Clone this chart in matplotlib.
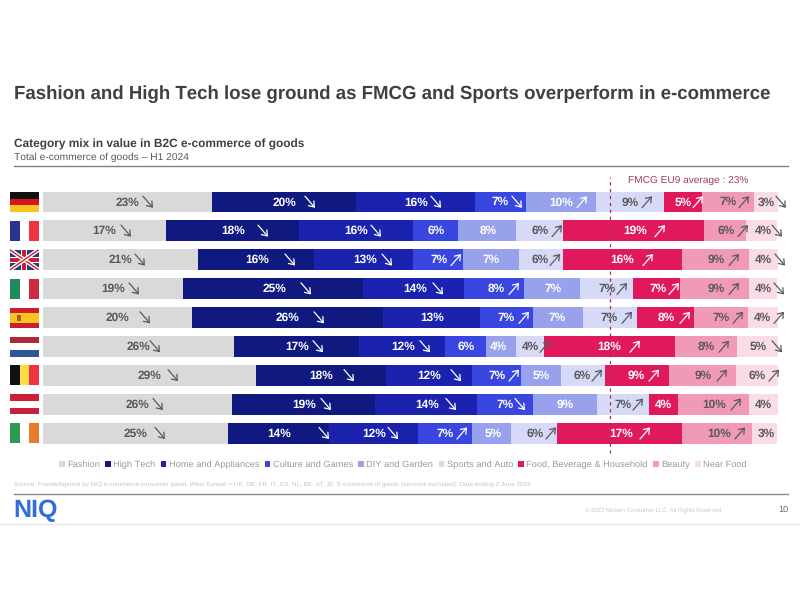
import matplotlib
matplotlib.use("Agg")
import matplotlib.pyplot as plt
from matplotlib.patches import Rectangle

plt.rcParams['font.family'] = ['Liberation Sans', 'DejaVu Sans']
plt.rcParams['text.hinting'] = 'no_hinting'
plt.rcParams['text.kerning_factor'] = 6

countries = ['DE', 'FR', 'UK', 'IT', 'ES', 'NL', 'BE', 'AT', 'IE']
categories = ['Fashion', 'High Tech', 'Home and Appliances', 'Culture and Games', 'DIY and Garden',
              'Sports and Auto', 'Food, Beverage & Household', 'Beauty', 'Near Food']
fashion = [23.0, 16.7, 21.1, 19.0, 20.3, 26.0, 29.0, 25.7, 25.2]
high_tech = [19.6, 18.1, 15.8, 24.6, 26.0, 17.0, 17.6, 19.5, 13.7]
home = [16.2, 15.5, 13.5, 13.7, 13.1, 11.7, 11.8, 13.9, 12.1]
culture = [6.9, 6.1, 6.8, 8.2, 7.2, 5.6, 6.7, 7.5, 7.3]
diy = [9.5, 7.9, 7.5, 7.5, 6.9, 4.1, 5.4, 8.8, 5.4]
sports = [9.3, 6.5, 6.0, 7.3, 7.3, 3.8, 5.9, 7.1, 6.3]
food = [5.2, 19.2, 16.3, 6.4, 7.8, 17.8, 8.8, 3.9, 17.0]
beauty = [7.1, 5.7, 9.1, 9.3, 7.3, 8.4, 9.1, 9.7, 9.5]
near = [3.3, 4.2, 3.9, 3.9, 4.1, 5.6, 5.7, 3.9, 3.4]
series = [fashion, high_tech, home, culture, diy, sports, food, beauty, near]

# printed labels, one row per country
labels = [
    [23, 20, 16, 7, 10, 9, 5, 7, 3],
    [17, 18, 16, 6, 8, 6, 19, 6, 4],
    [21, 16, 13, 7, 7, 6, 16, 9, 4],
    [19, 25, 14, 8, 7, 7, 7, 9, 4],
    [20, 26, 13, 7, 7, 7, 8, 7, 4],
    [26, 17, 12, 6, 4, 4, 18, 8, 5],
    [29, 18, 12, 7, 5, 6, 9, 9, 6],
    [26, 19, 14, 7, 9, 7, 4, 10, 4],
    [25, 14, 12, 7, 5, 6, 17, 10, 3],
]
trends = ['dddduuuud', 'ddd..uuud', 'dddu.uuud', 'dddu.uuud', 'dd.u.uuuu',
          'ddd..uuud', 'dddu.uuuu', 'dddd.u.u.', 'dddu.uuu.']

# layout: horizontal pixel centres of the labels and arrows
label_px = [
    [127, 284, 416, 500, 561, 630, 683, 728, 766],
    [104, 233, 356, 436, 488, 540, 635, 726, 763],
    [120, 257, 365, 439, 491, 540, 622, 716, 763],
    [113, 274, 415, 496, 553, 607, 658, 716, 763],
    [117, 287, 432, 506, 557, 609, 666, 721, 762],
    [138, 297, 403, 466, 498, 530, 609, 706, 758],
    [149, 321, 429, 497, 541, 582, 636, 703, 757],
    [137, 304, 427, 505, 565, 623, 663, 714, 763],
    [135, 279, 374, 445, 493, 535, 621, 719, 766],
]
arrow_px = [
    [148, 310, 436, 517, 582, 647, 698, 744, 781],
    [126, 263, 376, 0, 0, 557, 660, 743, 777],
    [140, 290, 387, 456, 0, 555, 648, 734, 780],
    [134, 306, 438, 514, 0, 622, 674, 734, 779],
    [145, 319, 0, 524, 0, 627, 685, 738, 779],
    [155, 318, 425, 0, 0, 545, 635, 724, 777],
    [173, 349, 456, 514, 0, 597, 654, 722, 774],
    [158, 326, 451, 520, 0, 638, 0, 736, 0],
    [160, 324, 393, 462, 0, 551, 645, 740, 0],
]
colors = ['#d9d9d9', '#10197f', '#1a22ae', '#3a46e0', '#98a2ec', '#d6daf6', '#e0195f', '#f19ab6', '#fadce6']
dark_text = {0, 5, 7, 8}
GREY = '#595959'

fig = plt.figure(figsize=(8, 6), dpi=100)
fig.patch.set_facecolor('white')

X0, X1, Y0, Y1 = 43, 778, 187.55, 447.65
ax = fig.add_axes([X0 / 800, 1 - Y1 / 600, (X1 - X0) / 800, (Y1 - Y0) / 600])
ax.set_xlim(0, 100)
ax.set_ylim(8.5, -0.5)
ax.axis('off')
row_px = (Y1 - Y0) / 9


def x_of(px):
    return (px - X0) / (X1 - X0) * 100


left = [0.0] * len(countries)
handles = []
for s, name, c in zip(series, categories, colors):
    b = ax.barh(range(len(countries)), s, left=left, height=0.72, color=c, label=name, linewidth=0)
    handles.append(b)
    left = [a + v for a, v in zip(left, s)]

ax.axvline(77.2, ymin=-0.02, ymax=1.04, color='#a8285c', lw=0.9, ls=(0, (2.5, 3)),
           clip_on=False, zorder=2.5)

for r in range(len(countries)):
    for k in range(len(categories)):
        col = GREY if k in dark_text else 'white'
        ax.text(x_of(label_px[r][k]), r + 0.01, f'{labels[r][k]}%', ha='center', va='center',
                fontsize=8.6, fontweight='bold', color=col, zorder=4)
        t = trends[r][k]
        if t == '.':
            continue
        ax_c = arrow_px[r][k]
        dy = 0.2 if t == 'd' else -0.2
        ax.annotate('', xy=(x_of(ax_c + 5), r + dy), xytext=(x_of(ax_c - 5), r - dy),
                    annotation_clip=False, zorder=4,
                    arrowprops=dict(arrowstyle='->,head_length=0.35,head_width=0.26',
                                    color=col, lw=0.9, shrinkA=0, shrinkB=0))

leg = ax.legend(handles=handles, ncol=9, loc='center', bbox_to_anchor=(x_of(403) / 100, (Y1 - 465) / (Y1 - Y0)),
                frameon=False, fontsize=6.65, labelcolor='#999999', handlelength=0.6, handleheight=0.65,
                handletextpad=0.25, columnspacing=0.6, borderaxespad=0, borderpad=0)

# overlay in pixel coordinates for page furniture and flags
ov = fig.add_axes([0, 0, 1, 1], zorder=5)
ov.set_xlim(0, 800)
ov.set_ylim(600, 0)
ov.axis('off')
ov.patch.set_alpha(0)

ov.text(14, 94, 'Fashion and High Tech lose ground as FMCG and Sports overperform in e-commerce',
        fontsize=13.45, fontweight='bold', color='#404040', va='center')
ov.text(14, 144, 'Category mix in value in B2C e-commerce of goods', fontsize=8.55, fontweight='bold',
        color='#404040', va='center')
ov.text(14, 157, 'Total e-commerce of goods \u2013 H1 2024', fontsize=7.35, color='#595959', va='center')
ov.plot([14, 788], [166, 166], color='#808080', lw=1)
ov.text(628, 181, 'FMCG EU9 average : 23%', fontsize=7.3, color='#a23a66', va='center')
ov.text(14, 484, 'Source: Foxintelligence by NIQ e-commerce consumer panel. West Europe = UK, DE, FR, IT, ES, NL, BE, AT, IE. '
        'E-commerce of goods (services excluded). Data ending 2 June 2024.', fontsize=4.62, color='#c4c4c4', va='center')
ov.plot([14, 788], [494, 494], color='#8a8a8a', lw=1)
ov.text(13.5, 511, 'NIQ', fontsize=18, fontweight='bold', color='#2f6fdc', va='center')
ov.text(585, 510, '\u00a9 2023 Nielsen Consumer LLC. All Rights Reserved.', fontsize=4.2, color='#c8c8c8', va='center')
ov.text(788, 510, '10', fontsize=6.6, color='#666666', va='center', ha='right')
ov.plot([0, 800], [524, 524], color='#e6e6e6', lw=1)


def rect(x, y, w, h, c):
    ov.add_patch(Rectangle((x, y), w, h, facecolor=c, edgecolor='none'))


fx, fw, fh = 10, 28.5, 20
for i, code in enumerate(countries):
    ty = Y0 + row_px * (i + 0.5) - fh / 2
    if code in ('DE', 'NL', 'AT'):
        cs = {'DE': ['#111111', '#d8141c', '#f7c51e'],
              'NL': ['#b0283c', '#ffffff', '#2f559b'],
              'AT': ['#c8203c', '#ffffff', '#c8203c']}[code]
        for j, c in enumerate(cs):
            rect(fx, ty + j * fh / 3, fw, fh / 3, c)
    elif code == 'ES':
        rect(fx, ty, fw, fh / 4, '#c8202c')
        rect(fx, ty + fh / 4, fw, fh / 2, '#f7c51e')
        rect(fx, ty + 3 * fh / 4, fw, fh / 4, '#c8202c')
        rect(fx + 7, ty + 7, 4, 6, '#b5552a')
    elif code == 'UK':
        rect(fx, ty, fw, fh, '#2a3a80')
        for p0, p1 in [((fx, ty), (fx + fw, ty + fh)), ((fx, ty + fh), (fx + fw, ty))]:
            ov.plot([p0[0], p1[0]], [p0[1], p1[1]], color='white', lw=3, solid_capstyle='butt')
            ov.plot([p0[0], p1[0]], [p0[1], p1[1]], color='#c8202c', lw=1, solid_capstyle='butt')
        rect(fx + fw / 2 - 3, ty, 6, fh, 'white')
        rect(fx, ty + fh / 2 - 3, fw, 6, 'white')
        rect(fx + fw / 2 - 1.8, ty, 3.6, fh, '#c8202c')
        rect(fx, ty + fh / 2 - 1.8, fw, 3.6, '#c8202c')
    else:
        cs = {'FR': ['#2a3590', '#ffffff', '#ef3340'],
              'IT': ['#1f8a5b', '#ffffff', '#cf2b3e'],
              'BE': ['#111111', '#fbdc44', '#ef3340'],
              'IE': ['#2f9a55', '#ffffff', '#ea7a2c']}[code]
        for j, c in enumerate(cs):
            rect(fx + j * fw / 3, ty, fw / 3, fh, c)

fig.savefig('out.png', dpi=100)
